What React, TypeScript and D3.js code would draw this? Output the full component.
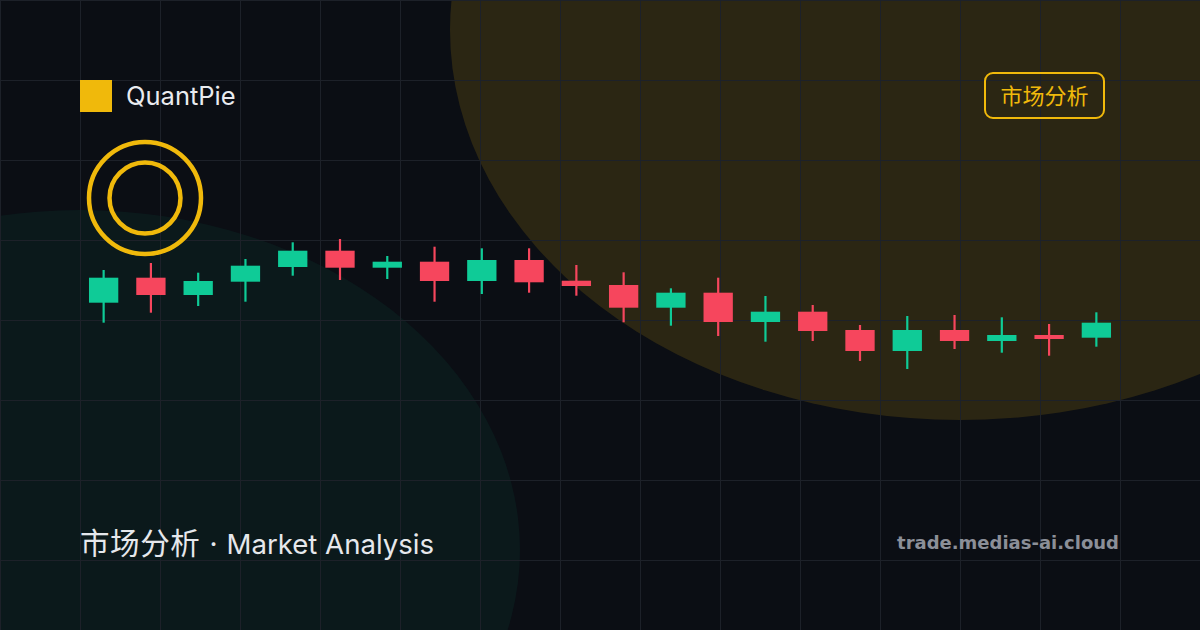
import React from "react";
import * as d3 from "d3";

const W = 1200;
const H = 630;

// candle data (price units)
const days = d3.range(1, 23).map((d) => `D${d}`);
const opens = [97.3, 122.3, 105, 118.3, 133, 149.3, 132.3, 138.3, 119, 140, 119.3, 115, 92.3, 107.3, 78, 88.3, 70, 49, 70, 59, 65, 62.3];
const closes = [122.3, 105, 119, 134.3, 149.3, 132.3, 138.3, 119, 140, 117.7, 114, 92.3, 107.3, 78, 88.3, 69, 49, 70, 59, 65, 61, 77.3];
const highs = [130, 137, 127.3, 141, 157.7, 161, 144, 153.3, 151.7, 151.7, 135, 127.7, 111.7, 122.3, 104, 95, 75, 84, 85, 82.7, 76, 87.7];
const lows = [77.3, 87.3, 94, 98.3, 124.3, 120, 121, 98.3, 106, 107.3, 104.3, 77.7, 74.3, 64, 58.3, 59, 39, 31, 51, 47.3, 44.3, 53.3];

const gridSteps = d3.range(0, 16);

const UP = "#0fcb97";
const DOWN = "#f6465d";
const YELLOW = "#F0B90B";
const BG = "#0b0e14";

export default function App() {
  const x = d3.scaleBand<string>().domain(days).range([80, 1120]).paddingInner(0.38).paddingOuter(0.19);
  const y = d3.scaleLinear().domain([0, 400]).range([400, 0]);
  const g = d3.scaleLinear().domain([0, 1]).range([0, 80]);

  return (
    <div style={{ position: "fixed", left: 0, top: 0, width: W, height: H }}>
      <svg width={W} height={H} viewBox={`0 0 ${W} ${H}`} style={{ display: "block" }}>
        <rect width={W} height={H} fill={BG} />
        <ellipse cx={960} cy={30} rx={510} ry={390} fill={YELLOW} fillOpacity={0.14} />
        <ellipse cx={80} cy={550} rx={440} ry={340} fill={UP} fillOpacity={0.06} />
        <g stroke="#1d2129" strokeWidth={1}>
          {gridSteps.map((i) => (
            <line key={`v${i}`} x1={g(i) + 0.5} x2={g(i) + 0.5} y1={0} y2={H} />
          ))}
          {gridSteps.slice(0, 9).map((i) => (
            <line key={`h${i}`} x1={0} x2={W} y1={g(i) + 0.5} y2={g(i) + 0.5} />
          ))}
        </g>

        {/* logo */}
        <rect x={80} y={80} width={32} height={32} fill={YELLOW} />
        <text x={126} y={105} fill="#e9ebef" fontFamily="Inter, 'Noto Sans', sans-serif" fontSize={25.5}>
          QuantPie
        </text>

        {/* badge */}
        <rect x={985} y={73} width={119} height={45} rx={8} fill="none" stroke={YELLOW} strokeWidth={2} />
        <text x={1044.5} y={104} textAnchor="middle" fill={YELLOW} fontFamily="'Noto Sans CJK SC', sans-serif" fontSize={22}>
          市场分析
        </text>

        {/* rings */}
        <circle cx={145} cy={198} r={56} fill="none" stroke={YELLOW} strokeWidth={4.5} />
        <circle cx={145} cy={198} r={35.5} fill="none" stroke={YELLOW} strokeWidth={4.5} />

        {/* candles */}
        {days.map((d, i) => {
          const o = opens[i];
          const c = closes[i];
          const col = c >= o ? UP : DOWN;
          const cx = (x(d) ?? 0) + x.bandwidth() / 2;
          const top = y(Math.max(o, c));
          const bot = y(Math.min(o, c));
          return (
            <g key={d}>
              <line x1={cx} x2={cx} y1={y(highs[i])} y2={y(lows[i])} stroke={col} strokeWidth={2.2} />
              <rect x={x(d)} y={top} width={x.bandwidth()} height={Math.max(bot - top, 4)} fill={col} />
            </g>
          );
        })}

        {/* footer */}
        <text x={80} y={554} fill="#e6e8ec" fontFamily="Inter, 'Noto Sans CJK SC', sans-serif" fontSize={28}>
          <tspan fontFamily="'Noto Sans CJK SC', sans-serif" fontSize={29.5} letterSpacing={0.6}>市场分析</tspan>
          <tspan dx={9}>·</tspan>
          <tspan dx={9} fontSize={27.6}>Market Analysis</tspan>
        </text>
        <text x={1119} y={549} textAnchor="end" fill="#8b8f98" fontFamily="'DejaVu Sans', sans-serif" fontWeight="bold" fontSize={18}>
          trade.medias-ai.cloud
        </text>
      </svg>
    </div>
  );
}
